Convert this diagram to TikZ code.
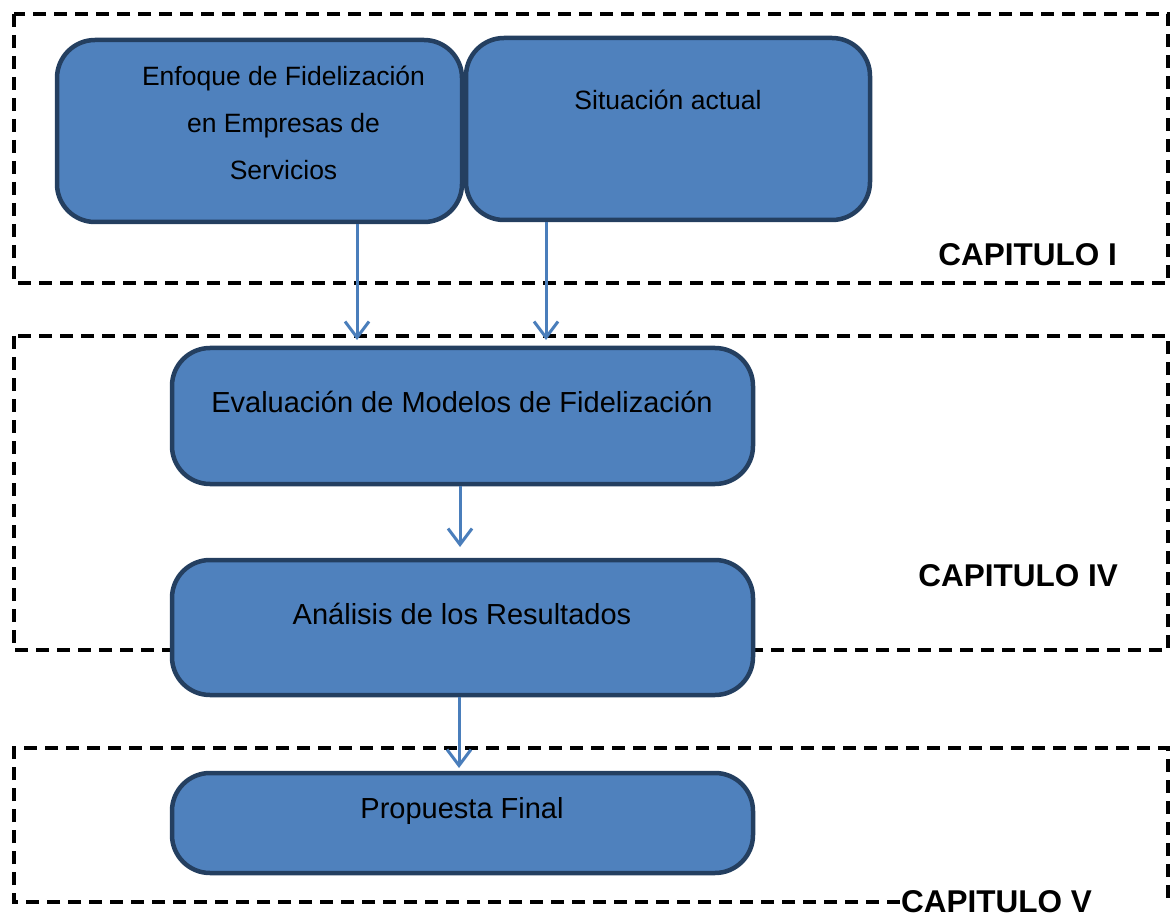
\documentclass[tikz,border=0pt]{standalone}
\usepackage{fontspec}
\setmainfont{Liberation Sans}
\usetikzlibrary{arrows.meta}
\definecolor{boxfill}{HTML}{4F81BD}
\definecolor{boxdraw}{HTML}{243F60}
\definecolor{arrowc}{HTML}{4A7EBB}
\tikzset{
  chapframe/.style={draw=black, line width=4pt, dash pattern=on 13pt off 8pt},
  bluebox/.style={draw=boxdraw, fill=boxfill, line width=4.5pt, rounded corners=38pt, inner sep=0pt},
  smalltxt/.style={font=\fontsize{26.5}{47}\selectfont, align=center, inner sep=0pt},
  bigtxt/.style={font=\fontsize{29}{35}\selectfont, inner sep=0pt},
  chaplabel/.style={font=\fontsize{31.5}{36}\selectfont\bfseries, inner sep=0pt},
  flow/.style={draw=arrowc, line width=3pt, -{Straight Barb[length=16pt,width=24pt,line width=3pt]}}
}
\begin{document}
\begin{tikzpicture}[x=1pt,y=-1pt]
\useasboundingbox (0,0) rectangle (1173,917);
% chapter frames
\draw[chapframe] (14,14) rectangle (1168,283);
\draw[chapframe] (14,336) rectangle (1168,650);
\draw[chapframe] (900,902) -- (14,902) -- (14,748) -- (1168,748) -- (1168,900);
% boxes
\node[bluebox, minimum width=405pt, minimum height=182pt] (enf) at (259.5,131) {};
\node[bluebox, minimum width=404pt, minimum height=182pt] (sit) at (668,129) {};
\node[bluebox, minimum width=581pt, minimum height=136pt] (eva) at (462.5,416) {};
\node[bluebox, minimum width=581pt, minimum height=135pt] (ana) at (462.5,627.5) {};
\node[bluebox, minimum width=581pt, minimum height=100pt] (pro) at (462.5,823) {};
% texts
\node[smalltxt, anchor=north] (enft) at (283.5,65.5) {Enfoque de Fidelización\\en Empresas de\\Servicios};
\node[smalltxt, anchor=base] (sitt) at (668,110) {Situación actual};
\node[bigtxt, anchor=base] (evat) at (462,412) {Evaluación de Modelos de Fidelización};
\node[bigtxt, anchor=base] (anat) at (462,624) {Análisis de los Resultados};
\node[bigtxt, anchor=base] (prot) at (462,818) {Propuesta Final};
% chapter labels
\node[chaplabel, anchor=base east] (c1) at (1117,266) {CAPITULO I};
\node[chaplabel, anchor=base east] (c4) at (1118,586) {CAPITULO IV};
\node[chaplabel, anchor=base east] (c5) at (1092,912) {CAPITULO V};
% arrows
\coordinate (t1) at (357,340);
\coordinate (t2) at (546,340);
\coordinate (t3) at (460,547);
\coordinate (t4) at (459,768);
\draw[flow] (enf.south -| t1) -- (t1);
\draw[flow] (sit.south -| t2) -- (t2);
\draw[flow] (eva.south -| t3) -- (t3);
\draw[flow] (ana.south -| t4) -- (t4);
\end{tikzpicture}
\end{document}
